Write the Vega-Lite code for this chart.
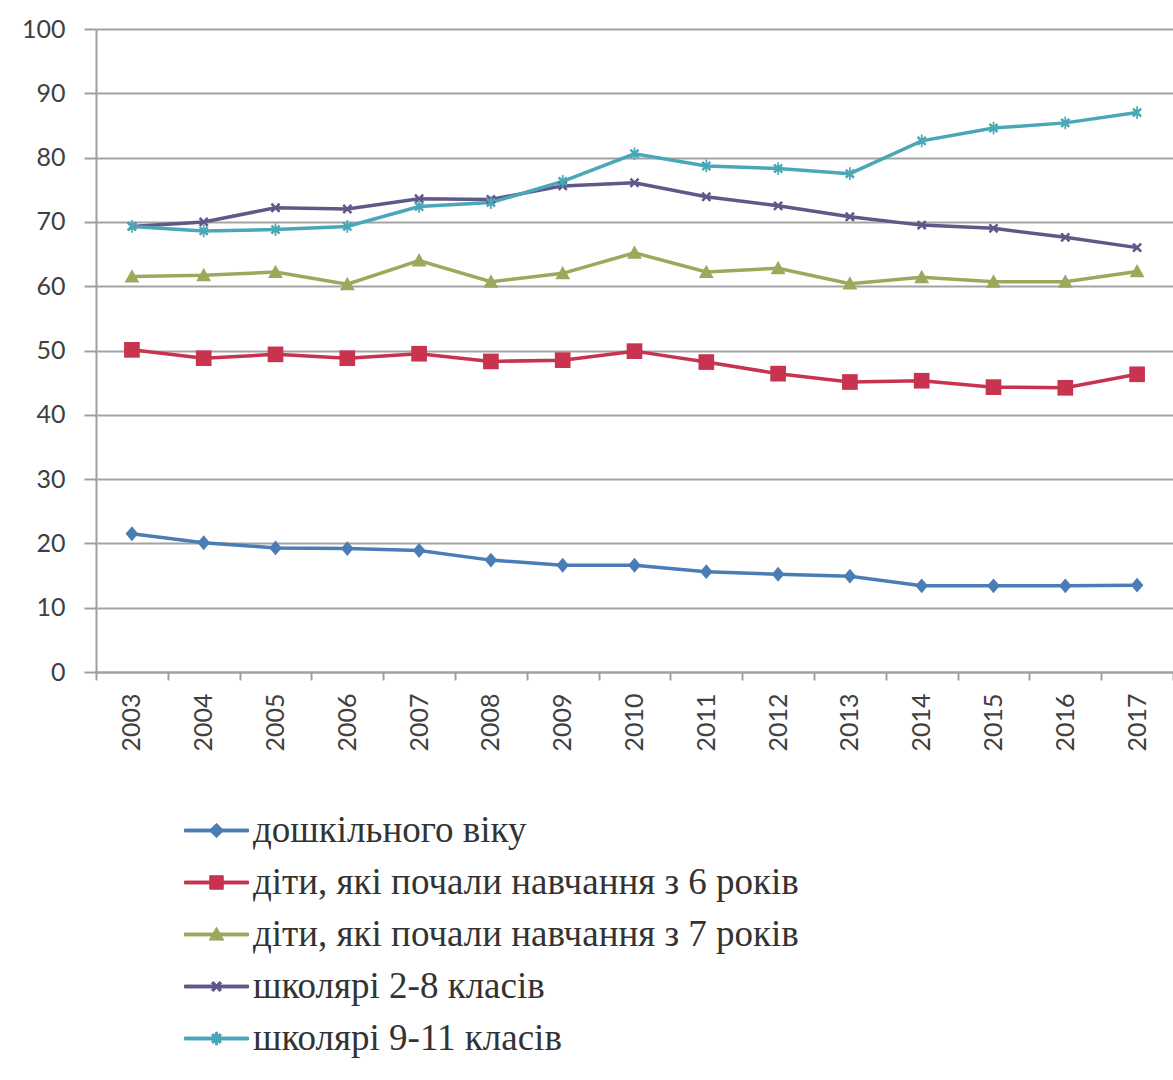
{
  "$schema": "https://vega.github.io/schema/vega-lite/v6.json",
  "autosize": {"type": "none"},
  "width": 1077,
  "height": 643,
  "padding": {"left": 96, "top": 29, "right": 0, "bottom": 408},
  "background": "#ffffff",
  "data": {
    "values": [
      {"year": "2003", "s": "дошкільного віку", "v": 21.5},
      {"year": "2004", "s": "дошкільного віку", "v": 20.1},
      {"year": "2005", "s": "дошкільного віку", "v": 19.3},
      {"year": "2006", "s": "дошкільного віку", "v": 19.2},
      {"year": "2007", "s": "дошкільного віку", "v": 18.9},
      {"year": "2008", "s": "дошкільного віку", "v": 17.4},
      {"year": "2009", "s": "дошкільного віку", "v": 16.6},
      {"year": "2010", "s": "дошкільного віку", "v": 16.6},
      {"year": "2011", "s": "дошкільного віку", "v": 15.6},
      {"year": "2012", "s": "дошкільного віку", "v": 15.2},
      {"year": "2013", "s": "дошкільного віку", "v": 14.9},
      {"year": "2014", "s": "дошкільного віку", "v": 13.4},
      {"year": "2015", "s": "дошкільного віку", "v": 13.4},
      {"year": "2016", "s": "дошкільного віку", "v": 13.4},
      {"year": "2017", "s": "дошкільного віку", "v": 13.5},
      {"year": "2003", "s": "діти, які почали навчання з 6 років", "v": 50.1},
      {"year": "2004", "s": "діти, які почали навчання з 6 років", "v": 48.8},
      {"year": "2005", "s": "діти, які почали навчання з 6 років", "v": 49.4},
      {"year": "2006", "s": "діти, які почали навчання з 6 років", "v": 48.8},
      {"year": "2007", "s": "діти, які почали навчання з 6 років", "v": 49.5},
      {"year": "2008", "s": "діти, які почали навчання з 6 років", "v": 48.3},
      {"year": "2009", "s": "діти, які почали навчання з 6 років", "v": 48.5},
      {"year": "2010", "s": "діти, які почали навчання з 6 років", "v": 49.9},
      {"year": "2011", "s": "діти, які почали навчання з 6 років", "v": 48.2},
      {"year": "2012", "s": "діти, які почали навчання з 6 років", "v": 46.4},
      {"year": "2013", "s": "діти, які почали навчання з 6 років", "v": 45.1},
      {"year": "2014", "s": "діти, які почали навчання з 6 років", "v": 45.3},
      {"year": "2015", "s": "діти, які почали навчання з 6 років", "v": 44.3},
      {"year": "2016", "s": "діти, які почали навчання з 6 років", "v": 44.2},
      {"year": "2017", "s": "діти, які почали навчання з 6 років", "v": 46.3},
      {"year": "2003", "s": "діти, які почали навчання з 7 років", "v": 61.5},
      {"year": "2004", "s": "діти, які почали навчання з 7 років", "v": 61.7},
      {"year": "2005", "s": "діти, які почали навчання з 7 років", "v": 62.2},
      {"year": "2006", "s": "діти, які почали навчання з 7 років", "v": 60.3},
      {"year": "2007", "s": "діти, які почали навчання з 7 років", "v": 64.0},
      {"year": "2008", "s": "діти, які почали навчання з 7 років", "v": 60.7},
      {"year": "2009", "s": "діти, які почали навчання з 7 років", "v": 62.0},
      {"year": "2010", "s": "діти, які почали навчання з 7 років", "v": 65.2},
      {"year": "2011", "s": "діти, які почали навчання з 7 років", "v": 62.2},
      {"year": "2012", "s": "діти, які почали навчання з 7 років", "v": 62.8},
      {"year": "2013", "s": "діти, які почали навчання з 7 років", "v": 60.4},
      {"year": "2014", "s": "діти, які почали навчання з 7 років", "v": 61.4},
      {"year": "2015", "s": "діти, які почали навчання з 7 років", "v": 60.7},
      {"year": "2016", "s": "діти, які почали навчання з 7 років", "v": 60.7},
      {"year": "2017", "s": "діти, які почали навчання з 7 років", "v": 62.3},
      {"year": "2003", "s": "школярі 2-8 класів", "v": 69.3},
      {"year": "2004", "s": "школярі 2-8 класів", "v": 70.0},
      {"year": "2005", "s": "школярі 2-8 класів", "v": 72.2},
      {"year": "2006", "s": "школярі 2-8 класів", "v": 72.0},
      {"year": "2007", "s": "школярі 2-8 класів", "v": 73.6},
      {"year": "2008", "s": "школярі 2-8 класів", "v": 73.5},
      {"year": "2009", "s": "школярі 2-8 класів", "v": 75.6},
      {"year": "2010", "s": "школярі 2-8 класів", "v": 76.1},
      {"year": "2011", "s": "школярі 2-8 класів", "v": 73.9},
      {"year": "2012", "s": "школярі 2-8 класів", "v": 72.5},
      {"year": "2013", "s": "школярі 2-8 класів", "v": 70.8},
      {"year": "2014", "s": "школярі 2-8 класів", "v": 69.5},
      {"year": "2015", "s": "школярі 2-8 класів", "v": 69.0},
      {"year": "2016", "s": "школярі 2-8 класів", "v": 67.6},
      {"year": "2017", "s": "школярі 2-8 класів", "v": 66.0},
      {"year": "2003", "s": "школярі 9-11 класів", "v": 69.3},
      {"year": "2004", "s": "школярі 9-11 класів", "v": 68.6},
      {"year": "2005", "s": "школярі 9-11 класів", "v": 68.8},
      {"year": "2006", "s": "школярі 9-11 класів", "v": 69.3},
      {"year": "2007", "s": "школярі 9-11 класів", "v": 72.4},
      {"year": "2008", "s": "школярі 9-11 класів", "v": 73.0},
      {"year": "2009", "s": "школярі 9-11 класів", "v": 76.3},
      {"year": "2010", "s": "школярі 9-11 класів", "v": 80.6},
      {"year": "2011", "s": "школярі 9-11 класів", "v": 78.7},
      {"year": "2012", "s": "школярі 9-11 класів", "v": 78.3},
      {"year": "2013", "s": "школярі 9-11 класів", "v": 77.5},
      {"year": "2014", "s": "школярі 9-11 класів", "v": 82.6},
      {"year": "2015", "s": "школярі 9-11 класів", "v": 84.6},
      {"year": "2016", "s": "школярі 9-11 класів", "v": 85.4},
      {"year": "2017", "s": "школярі 9-11 класів", "v": 87.0}
    ]
  },
  "encoding": {
    "x": {
      "field": "year",
      "type": "ordinal",
      "title": null,
      "scale": {"type": "band", "paddingInner": 0, "paddingOuter": 0},
      "axis": {
        "labelAngle": 270,
        "labelAlign": "right",
        "labelBaseline": "middle",
        "labelFont": "Lato",
        "labelFontSize": 25,
        "labelColor": "#404040",
        "labelPadding": 13,
        "tickBand": "extent",
        "tickSize": 8,
        "tickColor": "#a0a0a0",
        "tickWidth": 2,
        "domainColor": "#a0a0a0",
        "domainWidth": 2,
        "grid": false
      }
    },
    "y": {
      "field": "v",
      "type": "quantitative",
      "title": null,
      "scale": {"domain": [0, 100], "nice": false},
      "axis": {
        "values": [0, 10, 20, 30, 40, 50, 60, 70, 80, 90, 100],
        "labelFont": "Lato",
        "labelFontSize": 25,
        "labelColor": "#404040",
        "labelPadding": 19,
        "tickSize": 12,
        "tickColor": "#a0a0a0",
        "tickWidth": 2,
        "domainColor": "#a0a0a0",
        "domainWidth": 2,
        "grid": true,
        "gridColor": "#a3a3a3",
        "gridWidth": 2
      }
    },
    "color": {
      "field": "s",
      "type": "nominal",
      "title": null,
      "scale": {
        "domain": ["дошкільного віку", "діти, які почали навчання з 6 років", "діти, які почали навчання з 7 років", "школярі 2-8 класів", "школярі 9-11 класів"],
        "range": ["#4a7db5", "#c8334f", "#9aa95c", "#5f5888", "#4aa7b8"]
      },
      "legend": {
        "orient": "none",
        "legendX": 102,
        "legendY": 783,
        "padding": 0,
        "symbolSize": 1024,
        "symbolStrokeWidth": 1,
        "symbolOpacity": 1,
        "labelFont": "Liberation Serif",
        "labelFontSize": 37,
        "labelColor": "#333333",
        "labelOffset": 18,
        "labelLimit": 0,
        "rowPadding": 14
      }
    }
  },
  "layer": [
    {
      "mark": {"type": "line", "strokeWidth": 3.5}
    },
    {
      "transform": [{"filter": "datum.s === 'дошкільного віку'"}],
      "mark": {"type": "point", "filled": true, "opacity": 1, "size": 220, "shape": "M0,-1L0.85,0L0,1L-0.85,0Z"}
    },
    {
      "transform": [{"filter": "datum.s === 'діти, які почали навчання з 6 років'"}],
      "mark": {"type": "point", "filled": true, "opacity": 1, "size": 340, "shape": "M-0.85,-0.85H0.85V0.85H-0.85Z"}
    },
    {
      "transform": [{"filter": "datum.s === 'діти, які почали навчання з 7 років'"}],
      "mark": {"type": "point", "filled": true, "opacity": 1, "size": 220, "shape": "M0,-1L1,0.8H-1Z"}
    },
    {
      "transform": [{"filter": "datum.s === 'школярі 2-8 класів'"}],
      "mark": {"type": "point", "filled": true, "opacity": 1, "size": 200, "shape": "M-0.7,-0.45L-0.45,-0.7L0,-0.25L0.45,-0.7L0.7,-0.45L0.25,0L0.7,0.45L0.45,0.7L0,0.25L-0.45,0.7L-0.7,0.45L-0.25,0Z"}
    },
    {
      "transform": [{"filter": "datum.s === 'школярі 9-11 класів'"}],
      "mark": {"type": "point", "filled": true, "opacity": 1, "size": 200, "shape": "M-0.7,-0.45L-0.45,-0.7L0,-0.25L0.45,-0.7L0.7,-0.45L0.25,0L0.7,0.45L0.45,0.7L0,0.25L-0.45,0.7L-0.7,0.45L-0.25,0ZM-0.12,-0.9H0.12V0.9H-0.12Z"}
    },
    {
      "mark": {"type": "point", "filled": true, "opacity": 0},
      "encoding": {
        "shape": {
          "field": "s",
          "type": "nominal",
          "title": null,
          "scale": {
            "domain": ["дошкільного віку", "діти, які почали навчання з 6 років", "діти, які почали навчання з 7 років", "школярі 2-8 класів", "школярі 9-11 класів"],
            "range": [
              "M-2,-0.09H2V0.09H-2ZM0,-0.45L0.45,0L0,0.45L-0.45,0Z",
              "M-2,-0.09H2V0.09H-2ZM-0.42,-0.42H0.42V0.42H-0.42Z",
              "M-2,-0.09H2V0.09H-2ZM0,-0.45L0.45,0.35H-0.45Z",
              "M-2,-0.09H2V0.09H-2ZM-0.32,-0.2L-0.2,-0.32L0,-0.11L0.2,-0.32L0.32,-0.2L0.11,0L0.32,0.2L0.2,0.32L0,0.11L-0.2,0.32L-0.32,0.2L-0.11,0Z",
              "M-2,-0.09H2V0.09H-2ZM-0.32,-0.2L-0.2,-0.32L0,-0.11L0.2,-0.32L0.32,-0.2L0.11,0L0.32,0.2L0.2,0.32L0,0.11L-0.2,0.32L-0.32,0.2L-0.11,0ZM-0.06,-0.4H0.06V0.4H-0.06Z"
            ]
          },
          "legend": {
            "orient": "none",
            "legendX": 102,
            "legendY": 783,
            "padding": 0,
            "symbolSize": 1024,
            "symbolStrokeWidth": 1,
            "symbolOpacity": 1,
            "labelFont": "Liberation Serif",
            "labelFontSize": 37,
            "labelColor": "#333333",
            "labelOffset": 18,
            "labelLimit": 0,
            "rowPadding": 14
          }
        }
      }
    }
  ],
  "config": {
    "view": {"stroke": null}
  }
}
